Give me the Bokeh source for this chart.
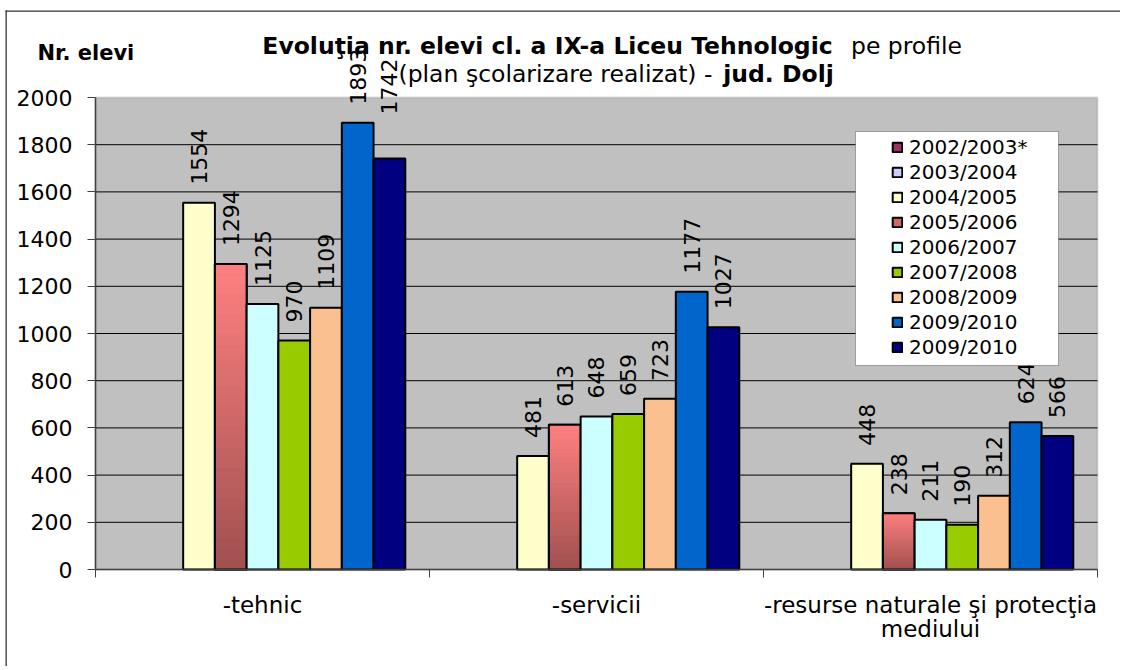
import math
from bokeh.plotting import figure
from bokeh.models import (Range1d, FixedTicker, LabelSet, Label, Legend, LegendItem,
                          ColumnDataSource, BoxAnnotation)
from bokeh.core.properties import value
from bokeh.embed import file_html
from bokeh.resources import INLINE

# ---------------- data ----------------
categories = ["-tehnic", "-servicii", "-resurse naturale şi protecţia\nmediului"]
series_names = ["2002/2003*", "2003/2004", "2004/2005", "2005/2006", "2006/2007",
                "2007/2008", "2008/2009", "2009/2010", "2009/2010"]
NaN = float("nan")
s_2002_2003 = [NaN, NaN, NaN]
s_2003_2004 = [NaN, NaN, NaN]
s_2004_2005 = [1554, 481, 448]
s_2005_2006 = [1294, 613, 238]
s_2006_2007 = [1125, 648, 211]
s_2007_2008 = [970, 659, 190]
s_2008_2009 = [1109, 723, 312]
s_2009_2010a = [1893, 1177, 624]
s_2009_2010b = [1742, 1027, 566]
y_ticks = [0, 200, 400, 600, 800, 1000, 1200, 1400, 1600, 1800, 2000]

series_values = [s_2002_2003, s_2003_2004, s_2004_2005, s_2005_2006, s_2006_2007,
                 s_2007_2008, s_2008_2009, s_2009_2010a, s_2009_2010b]

# ---------------- style / geometry ----------------
colors = ["#993366", "#CCCCFF", "#FFFFCC", "#D06868", "#CCFFFF",
          "#99CC00", "#FAC090", "#0066CC", "#000080"]
GRAD_TOP = (0xFF, 0x80, 0x80)
GRAD_BOT = (0xA0, 0x50, 0x50)
FONT = "DejaVu Sans"
TITLE_SIZE = "23.5px"
LABEL_GAP = 18                 # px between bar top and its value label
LABEL_NUDGE = {(8, 0): 26}     # label dragged higher in the original (series 8, category 0)

W, H = 1120, 666
PA_L, PA_R, PA_T, PA_B = 95, 1097, 97, 569   # plot-area pixel box
XMAX, YMAX = 3.0, 2000.0
SX = (PA_R - PA_L) / XMAX
SY = (PA_B - PA_T) / YMAX
BW = 0.095  # bar width (data units)


def dx(px):
    return (px - PA_L) / SX


def dy(py):
    return (PA_B - py) / SY


p = figure(width=W, height=H, output_backend="svg", toolbar_location=None,
           x_range=Range1d(dx(0), dx(W)), y_range=Range1d(dy(H), dy(0)))
p.min_border = 0
p.min_border_left = 0
p.min_border_right = 0
p.min_border_top = 0
p.min_border_bottom = 0
p.background_fill_color = "white"
p.border_fill_color = "white"
p.outline_line_color = None
p.grid.visible = False

# plot area background + border
p.add_layout(BoxAnnotation(left=0, right=XMAX, bottom=0, top=YMAX,
                           fill_color="#C0C0C0", fill_alpha=1,
                           line_color="#8C8C8C", line_width=2, level="underlay"))
# outer chart border (left and top edges; the others lie outside the picture)
p.add_layout(BoxAnnotation(left=dx(5), right=dx(6.3), top=dy(10), bottom=dy(H + 20),
                           fill_color="#333333", fill_alpha=1, line_color=None,
                           level="underlay"))
p.add_layout(BoxAnnotation(left=dx(5), right=dx(W + 20), top=dy(10), bottom=dy(11.3),
                           fill_color="#333333", fill_alpha=1, line_color=None,
                           level="underlay"))

# horizontal gridlines
inner_ticks = y_ticks[1:-1]
p.segment(x0=[0] * len(inner_ticks), x1=[XMAX] * len(inner_ticks),
          y0=inner_ticks, y1=inner_ticks, line_color="black", line_width=1)

# y axis
ya = p.yaxis[0]
ya.fixed_location = 0
ya.bounds = (0, YMAX)
ya.ticker = FixedTicker(ticks=y_ticks)
ya.major_label_text_font = FONT
ya.major_label_text_font_size = "22px"
ya.major_label_text_color = "black"
ya.major_tick_out = 8
ya.major_tick_in = 0
ya.major_tick_line_color = "#404040"
ya.minor_tick_line_color = None
ya.axis_line_color = "#404040"
ya.axis_line_width = 1.5
ya.major_label_standoff = 15

# x axis
xa = p.xaxis[0]
xa.fixed_location = 0
xa.bounds = (0, XMAX)
xa.ticker = FixedTicker(ticks=[0.5, 1.5, 2.5], minor_ticks=[0, 1, 2, 3])
xa.major_label_overrides = {0.5: categories[0], 1.5: categories[1], 2.5: categories[2]}
xa.major_tick_line_color = None
xa.major_tick_out = 0
xa.major_tick_in = 0
xa.minor_tick_out = 8
xa.minor_tick_in = 0
xa.minor_tick_line_color = "#404040"
xa.axis_line_color = "#404040"
xa.axis_line_width = 1.5
xa.major_label_text_font = FONT
xa.major_label_text_font_size = "23px"
xa.major_label_text_line_height = 0.95
xa.major_label_text_color = "black"
xa.major_label_standoff = 14

# bars
renderers = []
lab_x, lab_y, lab_t, lab_off = [], [], [], []
for i, vals in enumerate(series_values):
    xs = [c + 0.5 + (i - 4) * BW for c in range(len(categories))]
    src = ColumnDataSource(dict(x=xs, top=vals))
    r = p.vbar(x="x", top="top", width=BW, source=src, fill_color=colors[i],
               line_color="black", line_width=2)
    renderers.append(r)
    if i == 3:
        gx, gb, gt, gc = [], [], [], []
        N = 30
        for xv, v in zip(xs, vals):
            for k in range(N):
                f = (k + 0.5) / N
                col = "#%02x%02x%02x" % tuple(int(round(GRAD_BOT[j] + (GRAD_TOP[j] - GRAD_BOT[j]) * f)) for j in range(3))
                gx.append(xv)
                gb.append(v * k / N)
                gt.append(v * (k + 1) / N)
                gc.append(col)
        gsrc = ColumnDataSource(dict(x=gx, bottom=gb, top=gt, color=gc))
        p.vbar(x="x", bottom="bottom", top="top", width=BW, source=gsrc,
               fill_color="color", line_color="color", line_width=0.6)
        p.vbar(x="x", top="top", width=BW, source=src, fill_alpha=0,
               line_color="black", line_width=2)
    for c, (xv, v) in enumerate(zip(xs, vals)):
        if not math.isnan(v):
            lab_x.append(xv)
            lab_y.append(v)
            lab_t.append(str(v))
            lab_off.append(LABEL_GAP + LABEL_NUDGE.get((i, c), 0))

labels = LabelSet(x="x", y="y", text="text",
                  source=ColumnDataSource(dict(x=lab_x, y=lab_y, text=lab_t, off=lab_off)),
                  angle=math.pi / 2, text_align="left", text_baseline="middle",
                  y_offset="off", text_font=value(FONT), text_font_size="22px",
                  text_color="black")
p.add_layout(labels)

# legend box + legend
p.add_layout(BoxAnnotation(left=dx(855), right=dx(1058), top=dy(131), bottom=dy(365),
                           fill_color="white", fill_alpha=1, line_color="black",
                           line_width=1))

items = [LegendItem(label=n, renderers=[r]) for n, r in zip(series_names, renderers)]
legend = Legend(items=items, location=(891, H - 359.5), padding=0, margin=0, spacing=0,
                label_height=25, glyph_height=12, glyph_width=12, label_standoff=6,
                background_fill_alpha=0, border_line_color=None,
                label_text_font=FONT, label_text_font_size="20px",
                label_text_color="black")
p.add_layout(legend)

# titles
p.add_layout(Label(x=dx(37), y=dy(52), text="Nr. elevi", text_align="left",
                   text_baseline="middle", text_font=FONT, text_font_style="bold",
                   text_font_size="21px", text_color="black"))
p.add_layout(Label(x=dx(547), y=dy(45), text="Evoluţia nr. elevi cl. a IX-a Liceu Tehnologic",
                   text_align="center", text_baseline="middle", text_font=FONT,
                   text_font_style="bold", text_font_size=TITLE_SIZE, text_color="black"))
p.add_layout(Label(x=dx(906), y=dy(45), text="pe profile",
                   text_align="center", text_baseline="middle", text_font=FONT,
                   text_font_size=TITLE_SIZE, text_color="black"))
p.add_layout(Label(x=dx(555), y=dy(73), text="(plan şcolarizare realizat) -",
                   text_align="center", text_baseline="middle", text_font=FONT,
                   text_font_size=TITLE_SIZE, text_color="black"))
p.add_layout(Label(x=dx(778), y=dy(73), text="jud. Dolj",
                   text_align="center", text_baseline="middle", text_font=FONT,
                   text_font_style="bold", text_font_size=TITLE_SIZE, text_color="black"))

open("out.html", "w").write(file_html(p, INLINE))
